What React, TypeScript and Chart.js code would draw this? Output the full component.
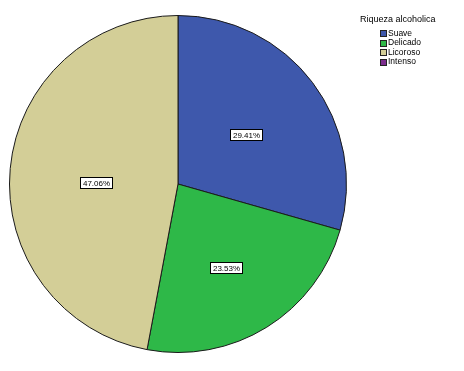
import React, { useEffect, useRef } from "react";
import { Chart, registerables } from "chart.js";

Chart.register(...registerables);

const categories = ["Suave", "Delicado", "Licoroso", "Intenso"];
const counts = [5, 4, 8, 0];
const colors = ["#3E58AC", "#2EB848", "#D3CE97", "#7B2C8C"];
const legendTitle = "Riqueza alcoholica";

const labelRadiusFraction = [0.5, 0.57, 0.485, 0.5];
const labelAngleNudgeDeg = [0.8, 1.9, -4.3, 0];

const sliceLabels = {
  id: "sliceLabels",
  afterDatasetsDraw(chart: any) {
    const ctx = chart.ctx;
    const meta = chart.getDatasetMeta(0);
    const data = chart.data.datasets[0].data as number[];
    const total = data.reduce((a, b) => a + b, 0);
    ctx.save();
    ctx.font = "8px 'Liberation Sans', Arial, sans-serif";
    ctx.textBaseline = "middle";
    ctx.textAlign = "center";
    meta.data.forEach((arc: any, i: number) => {
      if (!data[i]) return;
      const { x, y, startAngle, endAngle, outerRadius } = arc.getProps(
        ["x", "y", "startAngle", "endAngle", "outerRadius"],
        true
      );
      const mid = (startAngle + endAngle) / 2 + (labelAngleNudgeDeg[i] * Math.PI) / 180;
      const r = outerRadius * labelRadiusFraction[i];
      const lx = x + Math.cos(mid) * r;
      const ly = y + Math.sin(mid) * r;
      const text = ((data[i] / total) * 100).toFixed(2) + "%";
      const w = Math.ceil(ctx.measureText(text).width) + 4;
      const h = 11;
      const bx = Math.round(lx - w / 2) + 0.5;
      const by = Math.round(ly - h / 2) + 0.5;
      ctx.fillStyle = "#ffffff";
      ctx.fillRect(bx, by, w, h);
      ctx.strokeStyle = "#000000";
      ctx.lineWidth = 1;
      ctx.strokeRect(bx, by, w, h);
      ctx.fillStyle = "#000000";
      ctx.fillText(text, bx + w / 2, by + h / 2 + 0.5);
    });
    ctx.restore();
  },
};

const customLegend = {
  id: "customLegend",
  afterDraw(chart: any) {
    const ctx = chart.ctx;
    ctx.save();
    ctx.font = "9px 'Liberation Sans', Arial, sans-serif";
    ctx.fillStyle = "#000000";
    ctx.textBaseline = "middle";
    ctx.textAlign = "left";
    ctx.fillText(legendTitle, 360, 20);
    ctx.font = "8.5px 'Liberation Sans', Arial, sans-serif";
    categories.forEach((c, i) => {
      const y = 33 + i * 9.5;
      const by = Math.round(y - 3) + 0.5;
      ctx.fillStyle = colors[i];
      ctx.fillRect(380.5, by, 6, 6);
      ctx.strokeStyle = "#222";
      ctx.lineWidth = 1;
      ctx.strokeRect(380.5, by, 6, 6);
      ctx.fillStyle = "#000000";
      ctx.fillText(c, 388, y + 0.5);
    });
    ctx.restore();
  },
};

export default function App() {
  const ref = useRef<HTMLCanvasElement | null>(null);
  useEffect(() => {
    if (!ref.current) return;
    const chart = new Chart(ref.current, {
      type: "pie",
      data: {
        labels: categories,
        datasets: [
          {
            data: counts,
            backgroundColor: colors,
            borderColor: "#1a1a1a",
            borderWidth: 1,
          },
        ],
      },
      options: {
        responsive: false,
        animation: false,
        devicePixelRatio: 1,
        layout: { padding: { left: 9, top: 15, right: 117, bottom: 18 } },
        plugins: {
          legend: { display: false },
          tooltip: { enabled: false },
        },
      },
      plugins: [sliceLabels, customLegend],
    });
    return () => chart.destroy();
  }, []);
  return (
    <div style={{ position: "absolute", left: 0, top: 0, width: 464, height: 371, background: "#fff" }}>
      <canvas ref={ref} width={464} height={371} />
    </div>
  );
}
